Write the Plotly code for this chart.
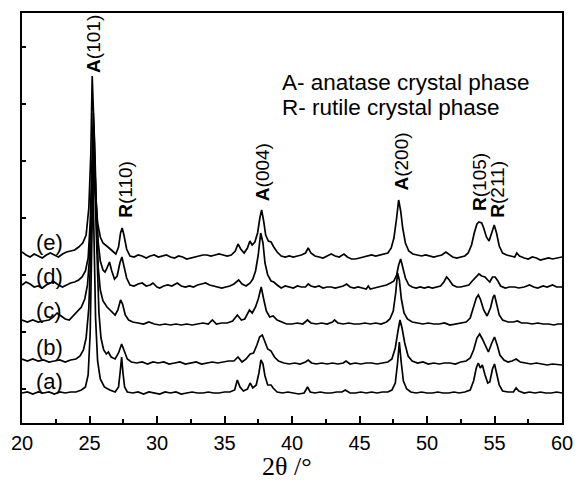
import plotly.graph_objects as go

# ---- data (intensity in arbitrary units) ----
a_x = [20.0,20.4,20.8,21.2,21.6,22.0,22.4,22.8,23.2,23.6,24.0,24.4,24.7,24.9,25.05,25.15,25.25,25.35,25.45,25.6,25.8,26.1,26.5,26.9,27.15,27.28,27.38,27.48,27.6,27.8,28.2,28.6,29.0,29.4,29.8,30.2,30.6,31.0,31.4,31.8,32.2,32.6,33.0,33.4,33.8,34.2,34.6,35.0,35.4,35.75,35.95,36.15,36.4,36.7,36.9,37.1,37.35,37.55,37.7,37.85,38.0,38.2,38.45,38.6,38.9,39.3,39.7,40.1,40.5,40.9,41.15,41.35,41.7,42.1,42.5,42.9,43.3,43.7,43.95,44.3,44.7,45.1,45.5,45.9,46.3,46.7,47.1,47.4,47.65,47.82,47.95,48.08,48.25,48.5,48.8,49.2,49.6,50.0,50.4,50.8,51.2,51.6,52.0,52.4,52.8,53.2,53.45,53.65,53.8,53.95,54.1,54.3,54.5,54.65,54.85,55.0,55.15,55.35,55.6,56.0,56.4,56.6,56.8,57.2,57.6,58.0,58.4,58.8,59.2,59.6,60.0]
a_y = [30,31,29,31,30,31,29,31,30,31,31,33,36,48,90,170,243,175,105,62,44,36,33,31,36,52,66,50,36,31,30,31,29,31,30,29,31,30,31,29,30,31,30,30,31,30,30,31,31,33,43,36,32,34,40,35,38,50,63,59,47,38,38,35,31,30,31,30,29,30,36,31,30,31,30,30,31,31,33,30,30,31,30,31,30,31,31,33,40,60,81,62,42,34,31,30,31,30,30,31,30,30,31,30,31,33,42,55,60,55,58,48,40,41,54,59,50,38,32,31,31,35,32,30,31,30,31,30,30,31,30]

b_x = [20.0,20.4,20.8,21.2,21.6,22.0,22.4,22.8,23.2,23.6,24.0,24.3,24.55,24.75,24.95,25.1,25.22,25.32,25.42,25.55,25.7,25.85,26.05,26.25,26.4,26.6,26.9,27.15,27.38,27.55,27.8,28.1,28.5,28.9,29.3,29.7,30.1,30.5,30.9,31.3,31.7,32.1,32.5,32.9,33.3,33.7,34.1,34.5,34.9,35.3,35.7,36.0,36.3,36.6,36.9,37.15,37.4,37.6,37.8,38.0,38.2,38.45,38.7,39.0,39.4,39.8,40.2,40.6,41.0,41.2,41.45,41.8,42.2,42.6,43.0,43.4,43.8,44.0,44.3,44.7,45.1,45.5,45.9,46.3,46.7,47.1,47.4,47.65,47.85,48.0,48.15,48.35,48.6,48.9,49.3,49.7,50.1,50.5,50.9,51.3,51.7,52.1,52.5,52.9,53.2,53.45,53.7,53.9,54.1,54.35,54.55,54.8,55.0,55.2,55.4,55.7,56.0,56.3,56.6,56.9,57.3,57.7,58.1,58.5,58.9,59.3,59.7,60.0]
b_y = [64,62,64,62,63,61,62,63,61,63,64,67,73,85,115,170,230,263,225,160,110,85,73,69,71,66,64,70,79,73,64,61,60,61,59,61,60,61,59,60,61,59,60,61,59,60,61,60,61,62,62,66,61,64,69,70,78,86,88,81,74,72,66,62,60,59,60,59,61,63,60,59,60,59,60,59,60,62,59,60,59,60,60,59,60,61,64,75,92,103,95,80,67,62,60,61,59,60,59,60,60,59,61,62,65,73,85,89,84,76,71,80,86,78,68,63,61,62,64,61,60,59,60,59,58,59,58,58]

c_x = [20.0,20.4,20.8,21.2,21.6,22.0,22.3,22.6,22.9,23.2,23.5,23.8,24.1,24.4,24.65,24.85,25.0,25.12,25.22,25.3,25.4,25.52,25.65,25.8,26.0,26.3,26.6,26.9,27.1,27.3,27.45,27.65,27.9,28.2,28.6,29.0,29.4,29.8,30.2,30.6,31.0,31.4,31.8,32.2,32.6,33.0,33.4,33.8,34.1,34.4,34.8,35.2,35.6,35.95,36.25,36.5,36.85,37.05,37.3,37.5,37.72,37.9,38.1,38.35,38.6,38.9,39.2,39.6,40.0,40.4,40.8,41.15,41.4,41.8,42.2,42.6,43.0,43.15,43.4,43.8,44.2,44.6,45.0,45.4,45.8,46.2,46.6,47.0,47.25,47.5,47.68,47.82,47.95,48.1,48.3,48.55,48.9,49.3,49.7,50.1,50.5,50.9,51.3,51.7,52.1,52.5,52.9,53.2,53.45,53.65,53.8,53.95,54.2,54.45,54.7,54.9,55.0,55.15,55.35,55.6,56.0,56.4,56.7,57.0,57.4,57.8,58.2,58.6,59.0,59.4,59.7,60.0]
c_y = [103,101,103,101,102,103,106,110,107,104,103,107,111,116,124,138,165,210,260,286,255,195,155,133,122,116,112,108,113,123,119,108,103,101,100,99,101,99,98,99,98,99,98,99,98,99,100,99,103,99,100,100,102,108,103,104,113,110,116,124,136,124,112,106,107,103,101,99,99,100,99,103,100,99,100,99,101,103,100,99,100,99,99,100,99,100,99,101,104,112,130,150,143,124,110,104,101,100,99,100,99,99,100,98,99,100,101,105,115,125,128,124,113,107,115,126,128,120,108,103,101,101,102,100,100,99,100,99,99,98,99,99]

d_x = [20.0,20.3,20.6,20.9,21.2,21.5,21.8,22.1,22.4,22.7,23.0,23.3,23.6,23.9,24.2,24.45,24.7,24.9,25.05,25.18,25.28,25.38,25.5,25.65,25.8,26.0,26.15,26.3,26.48,26.65,26.85,27.05,27.25,27.4,27.55,27.75,28.0,28.3,28.6,28.9,29.2,29.5,29.7,30.0,30.2,30.5,30.8,31.1,31.5,31.8,32.1,32.4,32.7,33.0,33.3,33.6,33.9,34.2,34.5,34.8,35.1,35.4,35.7,36.05,36.3,36.6,36.9,37.1,37.3,37.5,37.68,37.85,38.0,38.2,38.45,38.65,38.9,39.2,39.5,39.8,40.1,40.4,40.7,41.0,41.2,41.4,41.7,42.0,42.3,42.6,42.9,43.2,43.5,43.8,44.05,44.3,44.6,44.9,45.2,45.5,45.65,45.8,46.1,46.4,46.7,47.0,47.3,47.55,47.75,47.9,48.05,48.2,48.4,48.65,48.9,49.2,49.5,49.8,50.1,50.4,50.7,51.0,51.25,51.45,51.65,51.9,52.2,52.5,52.8,53.1,53.35,53.6,53.85,54.05,54.3,54.5,54.65,54.85,55.05,55.25,55.45,55.8,56.1,56.5,56.8,57.2,57.6,57.9,58.2,58.6,58.9,59.3,59.6,60.0]
d_y = [138,141,139,136,137,135,138,140,141,138,136,138,140,141,143,146,152,165,200,260,310,280,220,180,162,153,151,155,161,152,144,147,160,166,158,145,138,137,139,140,137,138,140,136,135,137,138,137,140,137,136,137,136,138,139,140,138,137,136,135,136,137,139,143,139,137,140,144,152,168,190,180,160,148,142,141,138,135,137,136,135,137,136,136,139,137,136,137,135,136,136,135,136,137,139,136,135,136,135,134,137,134,135,136,137,138,140,142,148,158,164,157,145,138,136,135,136,135,136,135,136,137,141,146,143,138,136,136,137,138,142,146,149,147,146,143,141,146,146,142,137,135,136,136,135,136,138,136,135,137,136,138,136,136]

e_x = [20.0,20.3,20.6,20.9,21.2,21.5,21.8,22.1,22.4,22.7,23.0,23.3,23.6,23.9,24.2,24.5,24.75,24.95,25.1,25.2,25.32,25.45,25.6,25.8,26.0,26.2,26.45,26.7,26.95,27.15,27.3,27.42,27.55,27.75,28.0,28.3,28.6,28.9,29.2,29.5,29.8,30.1,30.4,30.7,31.0,31.3,31.6,31.9,32.2,32.5,32.8,33.1,33.4,33.7,34.0,34.3,34.6,34.9,35.2,35.5,35.8,36.0,36.2,36.45,36.7,36.88,37.05,37.25,37.45,37.62,37.75,37.9,38.05,38.25,38.45,38.65,38.9,39.2,39.5,39.8,40.1,40.4,40.7,41.0,41.2,41.4,41.7,42.0,42.3,42.6,42.9,43.2,43.5,43.85,44.1,44.4,44.7,45.0,45.3,45.6,45.9,46.2,46.5,46.8,47.1,47.35,47.55,47.75,47.9,48.05,48.2,48.4,48.65,48.95,49.3,49.6,49.9,50.2,50.5,50.8,51.1,51.4,51.65,51.9,52.2,52.5,52.8,53.05,53.3,53.5,53.7,53.85,54.05,54.2,54.4,54.6,54.8,54.98,55.15,55.35,55.6,55.9,56.2,56.5,56.65,56.85,57.2,57.5,57.8,58.1,58.4,58.7,59.0,59.3,59.6,60.0]
e_y = [171,168,166,169,167,165,168,170,168,166,169,171,172,173,176,180,188,215,270,347,300,230,200,186,180,178,175,172,169,176,190,195,188,174,167,166,168,167,165,167,168,166,167,168,166,165,167,166,164,165,166,167,168,168,167,168,169,168,167,168,172,179,174,170,175,182,178,181,190,205,213,202,188,182,181,176,171,167,166,167,166,167,168,170,175,170,167,166,165,167,169,167,166,169,166,164,164,165,166,167,168,167,168,169,170,175,185,205,223,212,195,180,172,169,168,167,168,167,166,167,168,171,168,166,165,166,167,170,178,190,199,201,200,195,186,182,190,198,190,177,170,168,167,166,170,167,165,164,166,165,163,164,165,164,165,166]

series = [("(a)", a_x, a_y), ("(b)", b_x, b_y), ("(c)", c_x, c_y), ("(d)", d_x, d_y), ("(e)", e_x, e_y)]
sample_labels = ["(a)", "(b)", "(c)", "(d)", "(e)"]
sample_label_y = [42, 76, 113, 147, 181]

peak_labels = ["<b>A</b>(101)", "<b>R</b>(110)", "<b>A</b>(004)", "<b>A</b>(200)", "<b>R</b>(105)", "<b>R</b>(211)"]
peak_label_x = [25.25, 27.65, 37.79, 48.04, 53.85, 55.2]
peak_label_y = [348, 203, 220, 230, 210, 203]

legend_lines = ["A- anatase crystal phase", "R- rutile crystal phase"]
legend_y = [341, 316]

fig = go.Figure()
for name, xs, ys in series:
    fig.add_trace(go.Scatter(x=xs, y=ys, mode="lines", name=name,
                             line=dict(color="black", width=1.7), showlegend=False))

for t, xv, yv in zip(peak_labels, peak_label_x, peak_label_y):
    fig.add_annotation(x=xv, y=yv, text=t, textangle=-90, showarrow=False,
                       xanchor="center", yanchor="bottom",
                       font=dict(family="Liberation Sans, Arial", size=19, color="black"))

for t, yv in zip(sample_labels, sample_label_y):
    fig.add_annotation(x=22.0, y=yv, text=t, showarrow=False, xanchor="center", yanchor="middle",
                       font=dict(family="Liberation Sans, Arial", size=22, color="black"))

for t, yv in zip(legend_lines, legend_y):
    fig.add_annotation(x=39.1, y=yv, text=t, showarrow=False, xanchor="left", yanchor="middle",
                       font=dict(family="Liberation Sans, Arial", size=22.5, color="black"))

fig.add_annotation(xref="paper", yref="paper", x=0.49, y=-0.1463, text="2θ /°", showarrow=False,
                   xanchor="center", yanchor="bottom",
                   font=dict(family="Liberation Serif, Times New Roman", size=26, color="black"))

fig.update_layout(
    width=584, height=483,
    margin=dict(l=21, r=11, t=13, b=60),
    paper_bgcolor="white", plot_bgcolor="white",
    xaxis=dict(range=[20, 60], tickmode="linear", tick0=20, dtick=5,
               ticks="inside", ticklen=7, tickwidth=1.5, tickcolor="black",
               minor=dict(ticks="inside", ticklen=4, tickwidth=1.5, dtick=2.5, tickcolor="black"),
               showline=True, linecolor="black", linewidth=1.5, mirror=True,
               showgrid=False, zeroline=False, ticklabelstandoff=1,
               tickfont=dict(family="Liberation Sans, Arial", size=20, color="black")),
    yaxis=dict(range=[0, 410], tickmode="linear", tick0=34, dtick=57,
               ticks="inside", ticklen=4, tickwidth=1.5, tickcolor="black",
               showticklabels=False,
               showline=True, linecolor="black", linewidth=1.5, mirror=True,
               showgrid=False, zeroline=False),
)

fig.write_html("out.html", config={"displayModeBar": False},
               post_script="document.body.style.margin='0';document.body.style.overflow='hidden';")
